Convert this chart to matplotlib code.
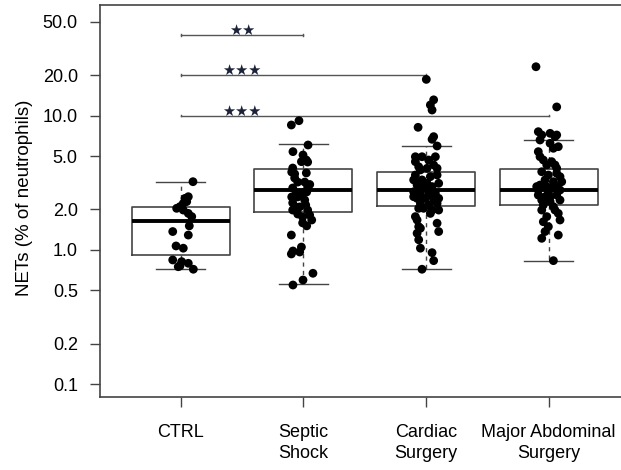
import matplotlib
matplotlib.use('Agg')

import matplotlib.pyplot as plt
import numpy as np

plt.rcParams['font.family'] = ['Liberation Sans', 'DejaVu Sans']

groups = ["CTRL", "Septic\nShock", "Cardiac\nSurgery", "Major Abdominal\nSurgery"]

# box statistics (whisker low, q1, median, q3, whisker high)
boxStats = [
    [0.72, 0.916, 1.64, 2.10, 3.22],
    [0.555, 1.93, 2.78, 4.0, 6.11],
    [0.718, 2.13, 2.79, 3.78, 5.94],
    [0.832, 2.15, 2.79, 4.02, 6.62],
]

# individual points (value, horizontal jitter)
ctrlVals = [3.22, 2.49, 2.42, 2.29, 2.22, 2.10, 2.04, 1.98, 1.87, 1.77, 1.51,
            1.37, 1.29, 1.07, 1.03, 0.842, 0.818, 0.760, 0.795, 0.718, 0.750]
ctrlJit = [0.10, 0.062, 0.035, 0.049, 0.021, -0.006, -0.033, 0.021, 0.062, 0.090, 0.070,
           -0.065, 0.062, -0.038, 0.021, -0.065, 0.008, -0.006, 0.062, 0.103, -0.020]

septicVals = [9.16, 8.51, 6.04, 5.39, 5.09, 4.67, 4.54, 4.51, 4.07, 3.80, 3.68, 3.74,
              3.43, 3.20, 3.20, 2.94, 2.89, 2.70, 2.65, 2.48, 2.48, 2.35, 2.24, 2.09,
              2.09, 1.98, 1.98, 1.82, 1.76, 1.67, 1.59, 1.29, 1.05, 0.982, 0.933, 0.965,
              0.670, 0.597, 0.548, 3.07, 2.57, 2.16, 1.85, 1.51]
septicJit = [-0.036, -0.098, 0.038, -0.085, -0.003, 0.024, -0.016, 0.035, -0.087, -0.095,
             -0.071, 0.024, -0.071, -0.046, 0.011, 0.035, -0.087, 0.027, -0.006, -0.095,
             -0.046, 0.011, -0.087, -0.063, -0.030, -0.087, 0.035, 0.051, -0.006, 0.068,
             -0.006, -0.098, -0.016, -0.085, -0.098, -0.030, 0.078, -0.003, -0.085,
             0.052, -0.063, 0.019, -0.046, 0.027]

cardiacVals = [18.6, 13.1, 12.0, 11.0, 8.18, 6.97, 6.66, 5.94, 4.94, 4.67, 4.94, 4.54,
               4.16, 4.29, 4.05, 3.94, 3.61, 3.32, 3.32, 3.51, 3.61, 3.04, 2.96, 2.96,
               3.13, 2.71, 2.64, 2.71, 2.64, 2.42, 2.42, 2.35, 2.42, 2.22, 2.16, 2.22,
               2.04, 1.98, 1.87, 1.67, 1.49, 1.58, 1.37, 1.33, 1.19, 1.03, 0.954, 0.832,
               0.718, 3.13, 2.49, 2.56, 2.04, 1.98, 4.05, 4.94, 1.77, 1.45]
cardiacJit = [0.002, 0.062, 0.035, 0.049, -0.065, 0.062, 0.049, 0.090, -0.087, 0.021,
              0.076, -0.087, -0.060, 0.062, 0.090, -0.046, -0.087, -0.101, -0.033, 0.035,
              0.090, -0.073, -0.020, 0.049, 0.103, -0.101, -0.046, 0.021, 0.076, -0.073,
              -0.006, 0.062, 0.103, -0.046, 0.021, 0.090, -0.020, 0.049, 0.035, -0.073,
              -0.060, 0.090, 0.103, -0.073, -0.060, -0.046, 0.049, 0.062, -0.033,
              0.008, -0.101, 0.035, -0.060, 0.103, 0.008, -0.033, -0.087, -0.046]

majorVals = [23.1, 11.6, 7.59, 7.17, 7.38, 6.97, 7.17, 6.58, 6.22, 5.87, 5.71, 5.39,
             4.94, 4.67, 4.54, 4.29, 4.05, 3.82, 3.61, 3.72, 3.51, 3.32, 3.22, 3.22,
             3.04, 2.96, 2.96, 2.79, 2.71, 2.79, 2.56, 2.49, 2.56, 2.35, 2.29, 2.35,
             2.16, 2.10, 1.98, 1.87, 1.67, 1.77, 1.62, 1.49, 1.37, 1.22, 1.29, 0.832,
             4.29, 2.88, 2.49, 2.96, 1.98]
majorJit = [-0.104, 0.065, -0.085, -0.057, 0.011, 0.051, 0.065, -0.071, 0.011, 0.078,
            0.038, -0.085, -0.071, -0.044, 0.024, 0.051, 0.065, -0.057, -0.003, 0.065,
            0.092, -0.030, 0.038, 0.106, -0.071, -0.016, 0.065, -0.085, -0.003, 0.092,
            -0.085, -0.030, 0.065, -0.057, 0.011, 0.092, -0.044, 0.038, -0.057, 0.078,
            0.092, -0.016, -0.044, -0.003, -0.030, -0.057, 0.078, 0.038,
            -0.016, 0.024, 0.011, -0.098, 0.051]

pointVals = [ctrlVals, septicVals, cardiacVals, majorVals]
pointJit = [ctrlJit, septicJit, cardiacJit, majorJit]

# significance brackets: (from group, to group, height, label)
brackets = [(1, 2, 40.0, "★★"), (1, 3, 20.0, "★★★"), (1, 4, 10.0, "★★★")]

yticks = [0.1, 0.2, 0.5, 1.0, 2.0, 5.0, 10.0, 20.0, 50.0]

fig = plt.figure(figsize=(6.21, 4.70), dpi=100)
ax = fig.add_axes([0.161, 0.156, 0.853, 0.8323])

edge = '#444444'
stats = []
for i, s in enumerate(boxStats):
    stats.append(dict(whislo=s[0], q1=s[1], med=s[2], q3=s[3], whishi=s[4], fliers=[]))

ax.bxp(stats, positions=[1, 2, 3, 4], widths=0.8, capwidths=0.4, showfliers=False,
       boxprops=dict(color=edge, linewidth=1.2),
       whiskerprops=dict(color=edge, linewidth=1.0, linestyle=(0, (3, 3))),
       capprops=dict(color=edge, linewidth=1.0),
       medianprops=dict(color='black', linewidth=2.8))

for i in range(4):
    xs = np.array(pointJit[i]) + i + 1
    ax.scatter(xs, pointVals[i], s=40, color='black', edgecolors='none', zorder=4)

for a, b, h, lab in brackets:
    ax.plot([a, b], [h, h], color='#555555', linewidth=1.0)
    ax.plot([a, a], [h * 0.985, h * 1.015], color='#555555', linewidth=1.0)
    ax.plot([b, b], [h * 0.985, h * 1.015], color='#555555', linewidth=1.0)
    ax.text(1.5, h, lab, ha='center', va='baseline', fontsize=10.5,
            color='#1c2238', family=['DejaVu Sans'])

ax.set_yscale('log')
ax.set_ylim(0.0808, 66)
ax.set_xlim(0.342, 4.66)
ax.set_yticks(yticks)
ax.set_yticklabels(["%.1f" % t for t in yticks])
ax.yaxis.set_minor_locator(matplotlib.ticker.NullLocator())
ax.set_xticks([1, 2, 3, 4])
ax.set_xticklabels(groups, fontsize=13, linespacing=1.25)
ax.tick_params(axis='y', labelsize=13, length=7, width=1.0, color=edge, pad=9)
ax.tick_params(axis='x', length=7, width=1.0, color=edge, pad=13)

for sp in ax.spines.values():
    sp.set_color(edge)
    sp.set_linewidth(1.2)

ax.set_ylabel("NETs (% of neutrophils)", fontsize=13.5)
ax.yaxis.set_label_coords(-0.1265, 0.509)

fig.savefig("out.png", dpi=100)
